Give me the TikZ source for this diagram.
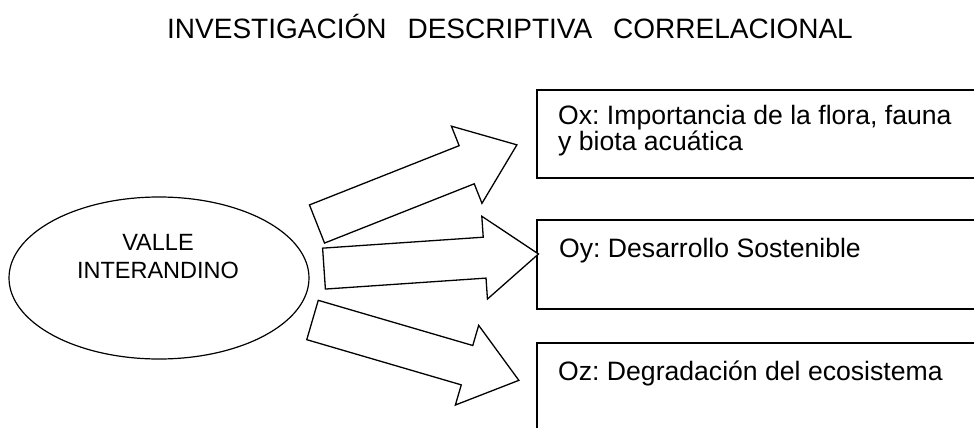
\documentclass[tikz,border=0pt]{standalone}
\usepackage{fontspec}
\setmainfont{Liberation Sans}
\usetikzlibrary{shapes.geometric}
\frenchspacing
\begin{document}
\begin{tikzpicture}[x=1pt,y=-1pt,
  blockarrow/.style={draw=black, line width=1.3pt, line join=miter, fill=white},
  boxline/.style={draw=black, line width=1.3pt},
  boxtext/.style={inner sep=0pt, align=left, font=\fontsize{26.6}{24.5}\selectfont},
]
\useasboundingbox (0,0) rectangle (974,428);
\clip (0,0) rectangle (974,428);
% title
\node[anchor=base east, inner sep=0pt, font=\fontsize{28}{30}\selectfont] (title) at (853,38)
  {INVESTIGACIÓN\hspace{21pt}DESCRIPTIVA\hspace{21pt}CORRELACIONAL};
% ellipse
\node[ellipse, draw=black, line width=1.2pt, minimum width=300pt, minimum height=162pt, inner sep=0pt] (valle) at (159,278) {};
\node[anchor=north, inner sep=0pt, align=center, font=\fontsize{23.5}{28}\selectfont] (valletext) at (158,234.5) {VALLE\\INTERANDINO};
% boxes
\path[boxline] (537,90) rectangle (1000,178);
\path[boxline] (537,220) rectangle (1000,309);
\path[boxline] (537,343) rectangle (1000,470);
\node[boxtext, anchor=north west] (ox) at (558,105) {Ox: Importancia de la flora, fauna\\y biota acuática};
\node[boxtext, anchor=base west] (oy) at (559,257) {Oy: Desarrollo Sostenible};
\node[boxtext, anchor=base west] (oz) at (558,380) {Oz: Degradación del ecosistema};
% block arrows
\newcommand{\myblockarrow}[3]{%
  \draw[blockarrow, shift={(#1,#2)}, rotate=#3]
    (0,-20.5) -- (161,-20.5) -- (161,-41.5) -- (215,0) -- (161,41.5) -- (161,20.5) -- (0,20.5) -- cycle;}
\myblockarrow{317}{224}{21.6}
\myblockarrow{324}{268.6}{3.9}
\myblockarrow{312.5}{320}{-16.3}
\end{tikzpicture}
\end{document}
